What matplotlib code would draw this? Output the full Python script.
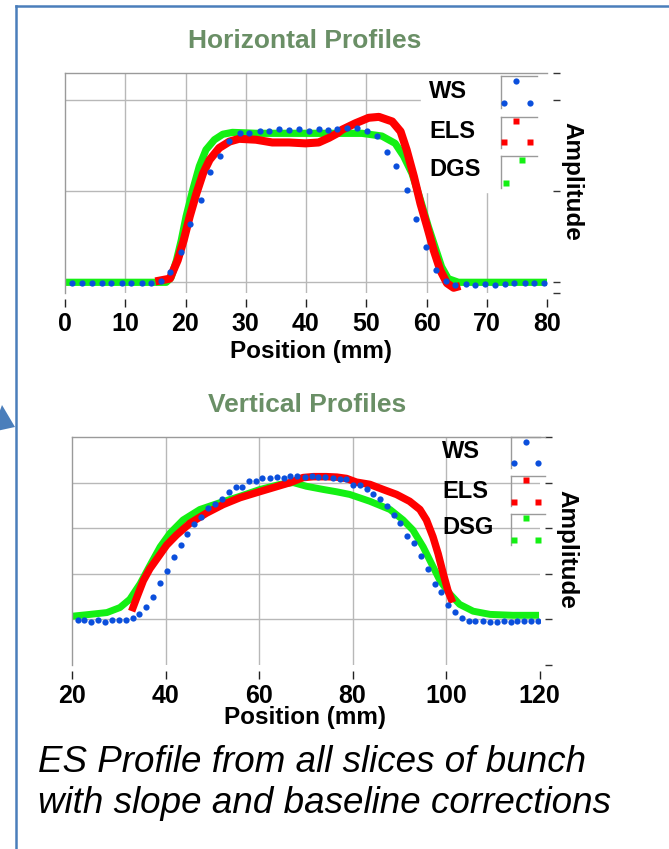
import numpy as np
import matplotlib
matplotlib.use("Agg")
import matplotlib.pyplot as plt
from matplotlib.lines import Line2D
from matplotlib.patches import Rectangle, Polygon

plt.rcParams["font.family"] = ["Liberation Sans", "DejaVu Sans"]

W, H = 669, 849

# ---- horizontal profiles (position mm, amplitude a.u.)
h_ws_x = [1.2, 2.9, 4.5, 6.2, 7.7, 9.4, 11.0, 12.7, 14.3, 16.0, 17.5, 19.2, 20.8, 22.5,
          24.1, 25.7, 27.3, 29.0, 30.6, 32.3, 33.9, 35.5, 37.2, 38.9, 40.5, 42.1, 43.7,
          45.2, 46.8, 48.5, 50.1, 51.8, 53.4, 55.0, 56.7, 58.2, 59.9, 61.5, 63.2, 64.7,
          66.5, 68.0, 69.7, 71.3, 73.0, 74.6, 76.3, 77.9, 79.5]
h_ws_y = [-0.01, -0.01, -0.01, -0.01, -0.01, -0.01, -0.01, -0.01, -0.01, 0.01, 0.11, 0.33,
          0.64, 0.90, 1.21, 1.38, 1.55, 1.63, 1.63, 1.66, 1.65, 1.68, 1.67, 1.68, 1.65,
          1.68, 1.67, 1.68, 1.69, 1.69, 1.65, 1.60, 1.43, 1.27, 1.01, 0.69, 0.39, 0.14,
          0.01, -0.03, -0.02, -0.03, -0.02, -0.03, -0.02, -0.01, -0.01, -0.01, -0.01]
h_els_x = [15.0, 17.4, 18.7, 19.7, 20.7, 21.8, 22.9, 24.0, 25.6, 27.3, 28.9, 31.7, 34.4,
           37.2, 39.9, 42.1, 43.8, 45.2, 46.0, 48.2, 50.4, 52.1, 54.3, 55.7, 56.7, 57.9,
           59.0, 60.1, 61.2, 62.3, 63.4, 64.5, 65.6]
h_els_y = [0.01, 0.04, 0.24, 0.46, 0.72, 0.97, 1.19, 1.34, 1.47, 1.54, 1.57, 1.56, 1.53,
           1.53, 1.52, 1.53, 1.58, 1.63, 1.67, 1.74, 1.80, 1.81, 1.76, 1.65, 1.45, 1.16,
           0.86, 0.61, 0.35, 0.13, -0.01, -0.06, -0.04]
h_dgs_x = [0, 5, 10, 16.8, 17.6, 18.5, 19.3, 20.1, 21.2, 22.3, 23.4, 24.8, 26.2, 27.8,
           31.7, 40.0, 49.3, 52.6, 54.8, 56.2, 57.6, 59.0, 60.3, 61.4, 62.5, 63.6, 65.3,
           70.0, 80.0]
h_dgs_y = [0, 0, 0, 0, 0.05, 0.24, 0.46, 0.72, 1.01, 1.27, 1.45, 1.56, 1.62, 1.64,
           1.63, 1.63, 1.63, 1.60, 1.52, 1.38, 1.19, 0.90, 0.61, 0.39, 0.17, 0.04, 0,
           0, 0]

# ---- vertical profiles
v_ws_x = [21.2, 22.6, 24.0, 25.6, 27.0, 28.4, 30.0, 31.4, 33.0, 34.3, 35.8, 37.3, 38.8,
          40.3, 41.8, 43.2, 44.6, 46.1, 47.5, 49.1, 50.5, 52.1, 53.5, 55.0, 56.4, 57.9,
          59.3, 60.7, 62.3, 63.9, 65.3, 66.7, 68.1, 69.8, 71.2, 72.6, 74.1, 75.7, 77.3,
          78.5, 80.0, 81.5, 83.0, 84.4, 85.8, 87.4, 88.8, 90.2, 91.7, 93.2, 94.6, 96.2,
          97.6, 99.0, 100.4, 102.0, 103.4, 104.9, 106.3, 107.9, 109.3, 110.8, 112.3,
          113.8, 115.2, 116.6, 118.1, 119.7]
v_ws_y = [-0.02, -0.02, -0.05, -0.02, -0.05, -0.02, -0.02, -0.02, 0.02, 0.11, 0.27, 0.50,
          0.79, 1.07, 1.36, 1.64, 1.87, 2.10, 2.24, 2.44, 2.52, 2.64, 2.79, 2.91, 2.91,
          3.03, 3.03, 3.09, 3.10, 3.12, 3.09, 3.15, 3.15, 3.12, 3.15, 3.13, 3.13, 3.10,
          3.08, 3.08, 2.95, 2.94, 2.85, 2.74, 2.63, 2.48, 2.30, 2.12, 1.83, 1.67, 1.38,
          1.10, 0.78, 0.59, 0.32, 0.17, 0.02, -0.04, -0.04, -0.04, -0.06, -0.06, -0.04,
          -0.06, -0.04, -0.04, -0.04, -0.04]
v_els_x = [32.7, 33.8, 35.2, 36.6, 38.4, 40.2, 42.3, 45.2, 48.7, 52.3, 55.9, 59.4, 63.0,
           66.6, 69.4, 71.6, 74.4, 76.6, 78.7, 80.8, 83.7, 86.5, 89.4, 92.2, 94.4, 95.8,
           97.2, 98.3, 99.4, 100.4, 101.4]
v_els_y = [0.18, 0.48, 0.85, 1.11, 1.37, 1.63, 1.85, 2.11, 2.33, 2.52, 2.67, 2.78, 2.89,
           3.00, 3.11, 3.13, 3.13, 3.12, 3.09, 3.01, 2.96, 2.85, 2.74, 2.59, 2.41, 2.18,
           1.81, 1.44, 1.00, 0.63, 0.37]
v_dsg_x = [20.0, 23.8, 27.4, 30.2, 32.3, 34.5, 36.6, 38.8, 40.9, 43.7, 47.3, 51.6, 55.9,
           60.2, 64.4, 67.3, 70.1, 73.7, 76.5, 79.4, 83.7, 88.0, 90.8, 92.9, 95.1, 96.9,
           98.7, 100.8, 102.9, 105.8, 109.4, 114.3, 119.9]
v_dsg_y = [0.07, 0.11, 0.15, 0.26, 0.44, 0.78, 1.18, 1.59, 1.89, 2.18, 2.41, 2.56, 2.70,
           2.85, 2.96, 3.00, 2.92, 2.85, 2.80, 2.74, 2.59, 2.41, 2.18, 1.96, 1.59, 1.22,
           0.85, 0.56, 0.33, 0.18, 0.11, 0.09, 0.09]

h_xticks = [0, 10, 20, 30, 40, 50, 60, 70, 80]
v_xticks = [20, 40, 60, 80, 100, 120]

BLUE, RED, GREEN = "#0b4fdc", "#ff0000", "#14f014"
GRID, FRAME = "#b8b8b8", "#9a9a9a"
TITLE_C = "#6a8f66"
EDGE = "#4a7ebb"


def fx(x):
    return x / W


def fy(y):
    return 1 - y / H


def style(ax, xlim, ylim, xticks, xgrid, ygrid, rticks):
    ax.set_xlim(*xlim)
    ax.set_ylim(*ylim)
    for s in ("bottom", "right"):
        ax.spines[s].set_position(("outward", 4))
        ax.spines[s].set_visible(False)
    for s in ("left", "top"):
        ax.spines[s].set_color(FRAME)
        ax.spines[s].set_linewidth(1)
    ax.set_xticks(xticks)
    ax.set_xticklabels([str(t) for t in xticks], fontsize=18, fontweight="bold")
    ax.tick_params(axis="x", direction="out", length=6, width=1, color="#222", pad=4)
    ax.yaxis.tick_right()
    ax.set_yticks(rticks)
    ax.set_yticklabels([])
    ax.tick_params(axis="y", direction="out", length=5, width=1, color="#333")
    for v in xgrid:
        ax.axvline(v, color=GRID, lw=1, zorder=0.5)
    for h in ygrid:
        ax.axhline(h, color=GRID, lw=1, zorder=0.5)


def legend_box(left, right, top, bottom):
    fig.add_artist(Line2D([fx(left), fx(left)], [fy(top), fy(bottom)], color=FRAME, lw=1))
    fig.add_artist(Line2D([fx(left), fx(right)], [fy(top), fy(top)], color=FRAME, lw=1))


def legend_marks(pts, color, marker, ms):
    for x, y in pts:
        fig.add_artist(Line2D([fx(x)], [fy(y)], marker=marker, ms=ms, color=color,
                              mec="none", ls="none"))


fig = plt.figure(figsize=(W / 100, H / 100), dpi=100)

# ---------------------------------------------------------------- horizontal
axh = fig.add_axes([fx(65), fy(293), 482 / W, 220 / H])
style(axh, (0, 80), (-0.117, 2.29), h_xticks, h_xticks[1:-1], [0, 1, 2],
      [-0.117, 0, 1, 2, 2.29])
axh.add_patch(Rectangle((0.739, 0.459), 0.261, 0.541, transform=axh.transAxes,
                        color="white", zorder=1))
axh.plot(h_dgs_x, h_dgs_y, color=GREEN, lw=5.2, zorder=2, solid_capstyle="butt")
axh.plot(h_els_x, h_els_y, color=RED, lw=5.8, zorder=3, solid_capstyle="butt")
axh.plot(h_ws_x, h_ws_y, "o", color=BLUE, ms=4.5, mec="none", zorder=4)
axh.set_xlabel("Position (mm)", fontsize=17.5, fontweight="bold")
axh.xaxis.set_label_coords(0.51, -0.268)
axh.xaxis.label.set_va("center")
axh.text(1.052, 0.505, "Amplitude", transform=axh.transAxes, rotation=270,
         ha="center", va="center", fontsize=17.5, fontweight="bold")
fig.text(fx(305), fy(41), "Horizontal Profiles", ha="center", va="center",
         fontsize=19, fontweight="bold", color=TITLE_C)

for lab, yc in zip(["WS", "ELS", "DGS"], [92, 131, 169]):
    fig.text(fx(429), fy(yc), lab, ha="left", va="center", fontsize=17, fontweight="bold")
legend_box(501, 537, 76, 108)
legend_box(501, 537, 117, 148)
legend_box(501, 537, 156, 188)
legend_marks([(516, 81), (504, 103), (530, 103)], BLUE, "o", 4.5)
legend_marks([(516, 121), (504, 142), (530, 142)], RED, "s", 4.2)
legend_marks([(522, 160), (506, 183)], GREEN, "s", 4.4)

# ---------------------------------------------------------------- vertical
axv = fig.add_axes([fx(72.3), fy(665), 467.2 / W, 228 / H])
style(axv, (20, 120), (-1, 4), v_xticks, v_xticks[1:-1], [0, 1, 2, 3],
      [-1, 0, 1, 2, 3, 4])
axv.plot(v_dsg_x, v_dsg_y, color=GREEN, lw=5.0, zorder=2, solid_capstyle="butt")
axv.plot(v_els_x, v_els_y, color=RED, lw=5.4, zorder=3, solid_capstyle="butt")
axv.plot(v_ws_x, v_ws_y, "o", color=BLUE, ms=4.5, mec="none", zorder=4)
axv.set_xlabel("Position (mm)", fontsize=17.5, fontweight="bold")
axv.xaxis.set_label_coords(0.498, -0.232)
axv.xaxis.label.set_va("center")
axv.text(1.059, 0.509, "Amplitude", transform=axv.transAxes, rotation=270,
         ha="center", va="center", fontsize=17.5, fontweight="bold")
fig.text(fx(307), fy(405), "Vertical Profiles", ha="center", va="center",
         fontsize=19, fontweight="bold", color=TITLE_C)

for lab, yc in zip(["WS", "ELS", "DSG"], [452, 491, 528]):
    fig.text(fx(442), fy(yc), lab, ha="left", va="center", fontsize=17, fontweight="bold")
legend_box(511, 545, 437, 468)
legend_box(511, 545, 476, 506)
legend_box(511, 545, 514, 545)
legend_marks([(526, 442), (514, 463), (538, 463)], BLUE, "o", 4.5)
legend_marks([(526, 480), (514, 502), (538, 502)], RED, "s", 4.2)
legend_marks([(526, 518), (514, 540), (538, 540)], GREEN, "s", 4.2)

# ---------------------------------------------------------------- caption + frame
fig.text(fx(38), fy(772), "ES Profile from all slices of bunch", ha="left",
         va="baseline", fontsize=26.5, style="italic")
fig.text(fx(38), fy(813), "with slope and baseline corrections", ha="left",
         va="baseline", fontsize=26.5, style="italic")

# text-box outline (left and top edges; the rest runs off the page)
fig.add_artist(Line2D([fx(16), fx(16)], [fy(6), 0], color=EDGE, lw=1.8))
fig.add_artist(Line2D([fx(16), 1], [fy(6), fy(6)], color=EDGE, lw=1.8))

# connector arrow coming in from the left
fig.add_artist(Line2D([fx(-60), fx(-2)], [fy(392), fy(418)], color=EDGE, lw=2.5))
fig.add_artist(Polygon([(fx(15), fy(427)), (fx(2), fy(405)), (fx(-8), fy(432))],
                       closed=True, transform=fig.transFigure, color=EDGE, lw=0))

fig.savefig("out.png", dpi=100)
